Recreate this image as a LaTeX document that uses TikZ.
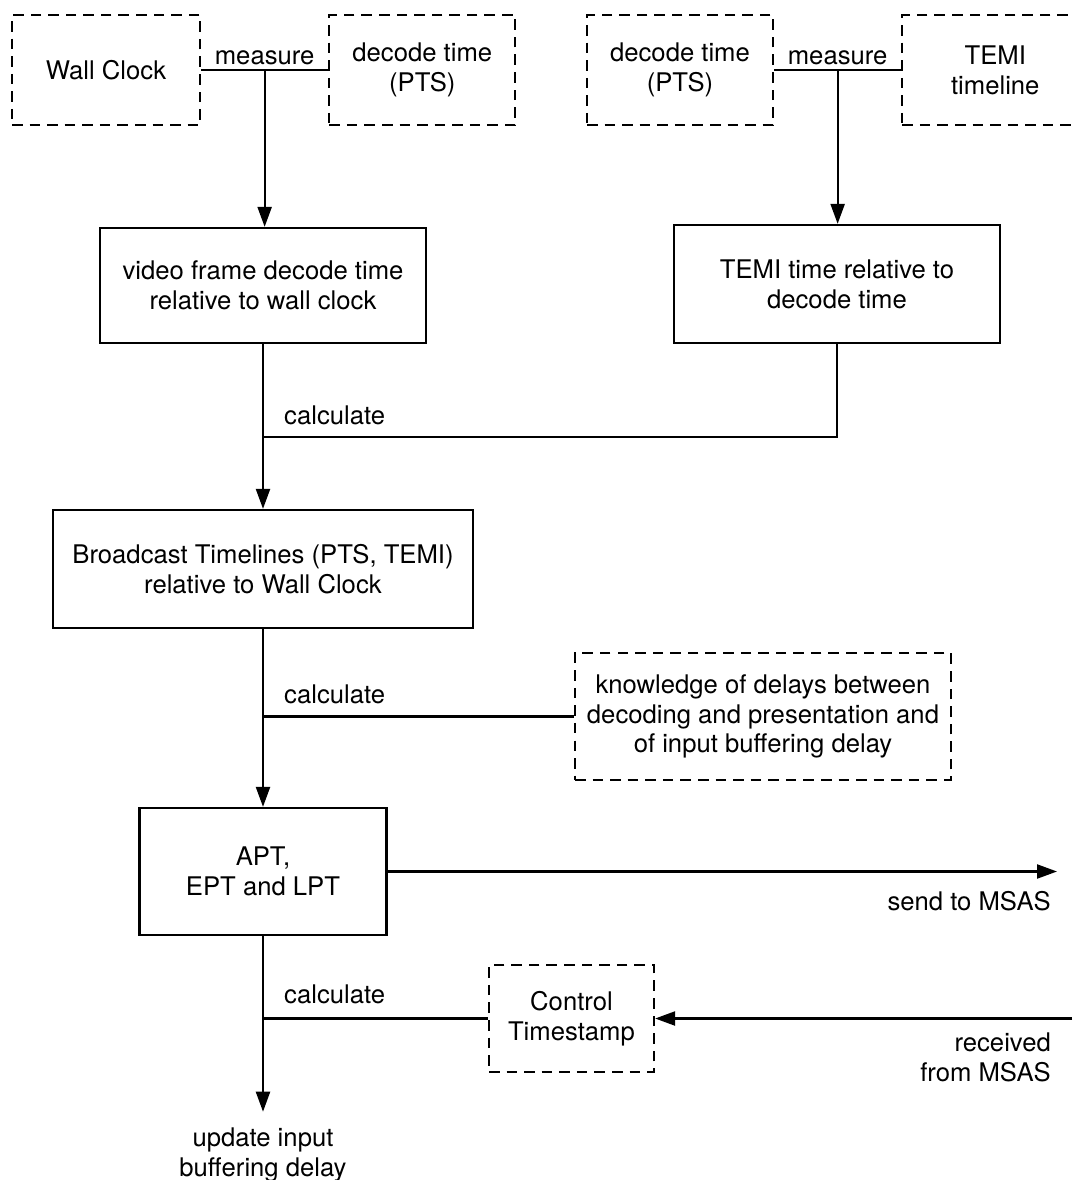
\documentclass[tikz,border=0pt]{standalone}
\usepackage{fontspec}
\setmainfont{TeX Gyre Heros}
\usetikzlibrary{positioning, arrows.meta}

\begin{document}
\begin{tikzpicture}[x=0.2mm, y=-0.2mm, font=\fontsize{14.6}{17}\selectfont,
    box/.style={draw, line width=1.3pt, align=center, inner sep=0pt},
    dashbox/.style={box, dash pattern=on 6pt off 4pt},
    flow/.style={line width=1.3pt, -{Triangle[length=4mm, width=2.8mm]}},
    link/.style={line width=1.3pt}]
    \useasboundingbox (0,0) rectangle (1075,1180);

    % Define nodes
    \node [dashbox, minimum width=37.6mm, minimum height=22mm] (wall) at (106,70) {Wall Clock};
    \node [dashbox, minimum width=37.2mm, minimum height=22mm, right=25.4mm of wall] (pts) {decode time\\(PTS)};
    \node [dashbox, minimum width=37.2mm, minimum height=22mm] (ptsb) at (680,70) {decode time\\(PTS)};
    \node [dashbox, minimum width=37.2mm, minimum height=22mm, right=25.4mm of ptsb] (temi) {TEMI\\timeline};

    \node [box, minimum width=65.2mm, minimum height=23mm] (vframe) at (263,285.5) {video frame decode time\\relative to wall clock};
    \node [box, minimum width=65.2mm, minimum height=23.6mm] (temirel) at (837,284) {TEMI time relative to\\decode time};
    \node [box, minimum width=84mm, minimum height=23.6mm] (bcast) at (263,569) {Broadcast Timelines (PTS, TEMI)\\relative to Wall Clock};
    \node [dashbox, minimum width=75.2mm, minimum height=25.4mm] (delays) at (763,716.5) {knowledge of delays between\\decoding and presentation and\\of input buffering delay};
    \node [box, minimum width=49.4mm, minimum height=25.4mm] (apt) at (263,871.5) {APT,\\EPT and LPT};
    \node [dashbox, minimum width=33mm, minimum height=21.4mm] (ctrl) at (571.5,1018.5) {Control\\Timestamp};
    \node [align=center] (update) at (263,1155) {update input\\buffering delay};

    % Free ends and junctions
    \coordinate (msasout) at (1057,871.5);
    \coordinate (msasin) at (1072,1018.5);
    \coordinate (j1) at (263,437);
    \coordinate (j2) at (bcast.south |- delays.west);
    \coordinate (j3) at (apt.south |- ctrl.west);

    % Measurements
    \draw[link] (wall.east) -- node[above, inner sep=2pt]{measure} coordinate[pos=.5] (m1) (pts.west);
    \draw[flow] (m1) -- (m1 |- vframe.north);
    \draw[link] (ptsb.east) -- node[above, inner sep=2pt]{measure} coordinate[pos=.5] (m2) (temi.west);
    \draw[flow] (m2) -- (m2 |- temirel.north);

    % Calculations down the column
    \draw[flow] (vframe) -- (bcast);
    \draw[link] (temirel.south) |- (j1);
    \node [anchor=base west] (calca) at (278,424) {calculate};

    \draw[flow] (bcast) -- (apt);
    \draw[link] (delays.west) -- (j2);
    \node [anchor=base west] (calcb) at (278,703) {calculate};

    \draw[flow, shorten >=2mm] (apt) -- (update);
    \draw[link] (ctrl.west) -- (j3);
    \node [anchor=base west] (calcc) at (278,1003) {calculate};

    % To and from MSAS
    \draw[flow] (apt.east) -- (msasout);
    \node [anchor=base east] (sendlbl) at (1057,910) {send to MSAS};
    \draw[flow] (msasin) -- (ctrl.east);
    \node [anchor=east, align=right] (recvlbl) at (1057,1057) {received\\from MSAS};
\end{tikzpicture}
\end{document}
